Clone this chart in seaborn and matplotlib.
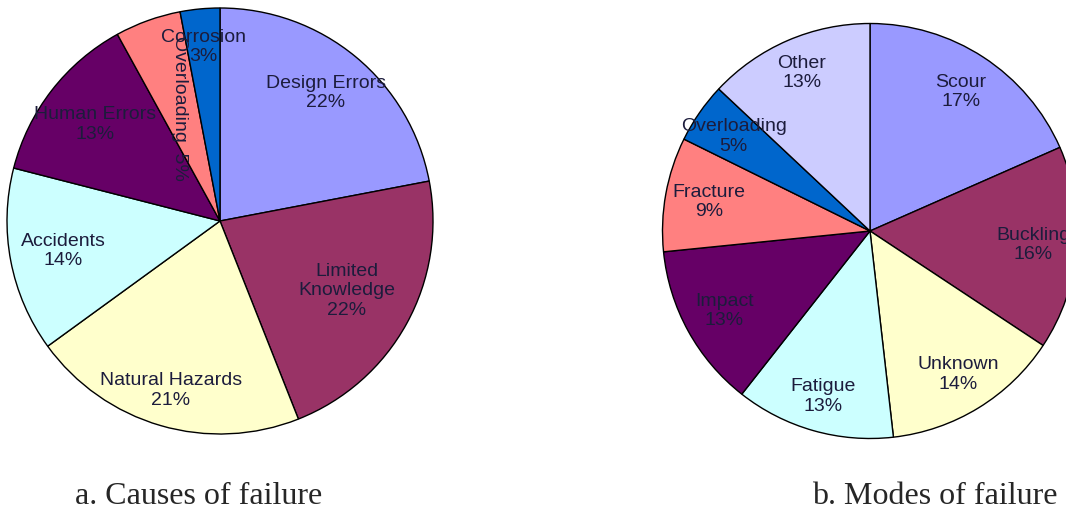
import numpy as np
import matplotlib
matplotlib.use("Agg")
import matplotlib.pyplot as plt
import seaborn as sns

# bridge failure pie charts

sns.set_style("white")
plt.rcParams['font.family'] = ['Liberation Sans', 'DejaVu Sans']

# a. causes of failure
causes = ['Design Errors', 'Limited\nKnowledge', 'Natural Hazards', 'Accidents',
          'Human Errors', 'Overloading', 'Corrosion']
causes_share = [22, 22, 21, 14, 13, 5, 3]
causes_pct = ['22%', '22%', '21%', '14%', '13%', '5%', '3%']

# b. modes of failure (wedge sizes, labels as printed)
modes = ['Scour', 'Buckling', 'Unknown', 'Fatigue', 'Impact', 'Fracture',
         'Overloading', 'Other']
modes_share = [18.4, 15.9, 13.9, 12.4, 12.8, 8.9, 4.7, 13.0]
modes_pct = ['17%', '16%', '14%', '13%', '13%', '9%', '5%', '13%']

causes_colors = ['#9999FF', '#993366', '#FFFFCC', '#CCFFFF', '#660066', '#FF8080', '#0066CC']
modes_colors = ['#9999FF', '#993366', '#FFFFCC', '#CCFFFF', '#660066', '#FF8080', '#0066CC', '#CCCCFF']

causes_dist = [0.78, 0.68, 0.83, 0.75, 0.74, 0.56, 0.82]
modes_dist = [0.80, 0.79, 0.81, 0.83, 0.80, 0.79, 0.80, 0.83]

txt_color = '#1c1c3c'

W, H = 1066, 517
fig = plt.figure(figsize=(W / 100, H / 100), dpi=100)


def pie_axes(cx, cy, r):
    # cx, cy, r in pixels from the top-left corner
    return fig.add_axes([(cx - r) / W, (H - cy - r) / H, 2 * r / W, 2 * r / H])


def draw_pie(ax, shares, colors, names, pcts, dists, rot=None):
    wedges, _ = ax.pie(shares, colors=colors, startangle=90, counterclock=False,
                       radius=1, wedgeprops=dict(edgecolor='black', linewidth=1.0))
    for w in wedges:
        w.set_clip_on(False)
    for i, w in enumerate(wedges):
        mid = np.deg2rad((w.theta1 + w.theta2) / 2)
        x = dists[i] * np.cos(mid)
        y = dists[i] * np.sin(mid)
        r = 0
        sep = '\n'
        if rot is not None and rot[i]:
            r = rot[i]
            sep = '  '
        ax.text(x, y, names[i] + sep + pcts[i], ha='center', va='center',
                multialignment='center', fontsize=14, color=txt_color,
                rotation=r, linespacing=1.2)
    ax.set_xlim(-1, 1)
    ax.set_ylim(-1, 1)
    ax.set_aspect('equal')
    ax.axis('off')


ax1 = pie_axes(220, 221, 213)
draw_pie(ax1, causes_share, causes_colors, causes, causes_pct, causes_dist,
         rot=[0, 0, 0, 0, 0, 270, 0])

ax2 = pie_axes(870, 231, 207.5)
draw_pie(ax2, modes_share, modes_colors, modes, modes_pct, modes_dist)

fig.text(199 / W, 1 - 497 / H, 'a. Causes of failure', ha='center', va='center',
         fontsize=23, family='Liberation Serif')
fig.text(935 / W, 1 - 497 / H, 'b. Modes of failure', ha='center', va='center',
         fontsize=23, family='Liberation Serif')

fig.savefig('out.png', dpi=100)
